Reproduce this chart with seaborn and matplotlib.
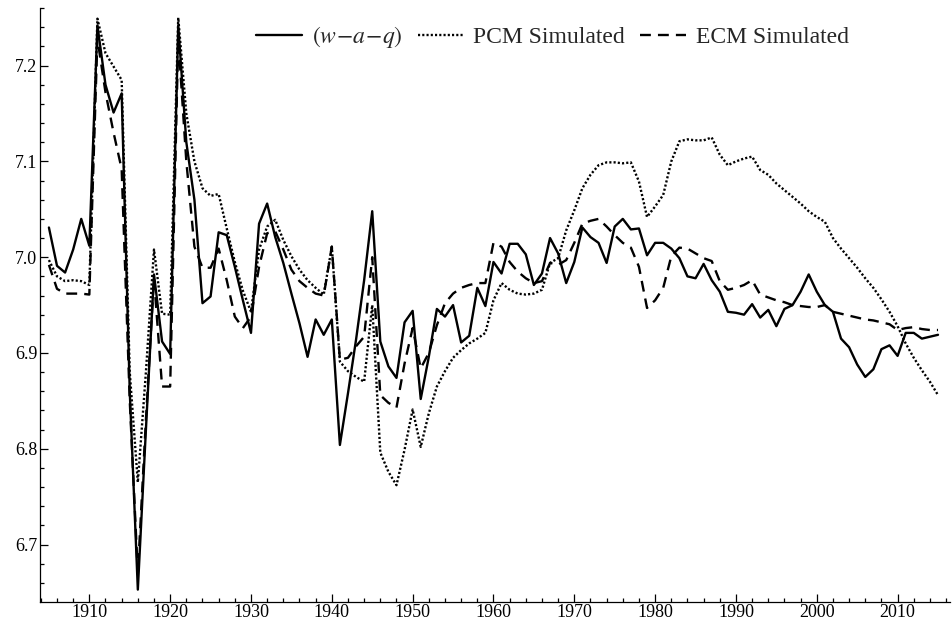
import numpy as np
import pandas as pd
import matplotlib
matplotlib.use("Agg")
import matplotlib.pyplot as plt
from matplotlib.ticker import MultipleLocator, FormatStrFormatter
import seaborn as sns

sns.set_theme(style="ticks")
plt.rcParams['font.family'] = ['Liberation Serif', 'DejaVu Serif']
plt.rcParams['mathtext.fontset'] = 'stix'

years = np.arange(1905, 2016)

# (w-a-q)
wq = [7.031, 6.991, 6.984, 7.008, 7.040, 7.012, 7.242, 7.180, 7.151, 7.171,
      6.860, 6.653, 6.820, 6.982, 6.912, 6.899, 7.242, 7.120, 7.060, 6.952,
      6.959, 7.026, 7.023, 6.990, 6.955, 6.921, 7.035, 7.056, 7.021, 6.994,
      6.962, 6.931, 6.896, 6.935, 6.919, 6.935, 6.804, 6.858, 6.914, 6.976,
      7.048, 6.912, 6.886, 6.874, 6.932, 6.944, 6.852, 6.896, 6.946, 6.938,
      6.950, 6.911, 6.918, 6.968, 6.949, 6.995, 6.983, 7.014, 7.014, 7.003,
      6.971, 6.983, 7.020, 7.004, 6.973, 6.995, 7.031, 7.021, 7.015, 6.994,
      7.032, 7.040, 7.029, 7.030, 7.002, 7.015, 7.015, 7.009, 6.999, 6.980,
      6.978, 6.993, 6.976, 6.964, 6.943, 6.942, 6.940, 6.951, 6.937, 6.945,
      6.928, 6.946, 6.950, 6.964, 6.982, 6.964, 6.950, 6.943, 6.915, 6.906,
      6.888, 6.875, 6.883, 6.904, 6.908, 6.897, 6.921, 6.921, 6.915, 6.917,
      6.919]

# PCM Simulated
pcm = [6.997, 6.980, 6.975, 6.976, 6.975, 6.971, 7.249, 7.213, 7.199, 7.185,
       6.880, 6.765, 6.880, 7.008, 6.941, 6.940, 7.250, 7.150, 7.100, 7.072,
       7.064, 7.066, 7.030, 6.995, 6.965, 6.943, 7.008, 7.032, 7.039, 7.018,
       7.001, 6.987, 6.976, 6.968, 6.961, 7.011, 6.891, 6.881, 6.875, 6.870,
       6.950, 6.796, 6.776, 6.762, 6.799, 6.841, 6.802, 6.837, 6.865, 6.881,
       6.895, 6.903, 6.910, 6.915, 6.921, 6.955, 6.973, 6.966, 6.962, 6.961,
       6.962, 6.966, 6.994, 6.999, 7.028, 7.049, 7.072, 7.086, 7.096, 7.099,
       7.099, 7.098, 7.099, 7.079, 7.042, 7.053, 7.065, 7.100, 7.121, 7.123,
       7.122, 7.122, 7.125, 7.107, 7.096, 7.100, 7.103, 7.105, 7.091, 7.086,
       7.077, 7.070, 7.063, 7.056, 7.048, 7.042, 7.037, 7.020, 7.009, 6.999,
       6.989, 6.978, 6.968, 6.956, 6.943, 6.928, 6.910, 6.895, 6.882, 6.870,
       6.856]

# ECM Simulated
ecm = [6.992, 6.967, 6.962, 6.962, 6.962, 6.961, 7.228, 7.172, 7.130, 7.092,
       6.850, 6.670, 6.830, 6.978, 6.865, 6.865, 7.228, 7.100, 7.011, 6.989,
       6.989, 7.009, 6.976, 6.938, 6.926, 6.938, 6.990, 7.025, 7.027, 7.008,
       6.987, 6.975, 6.968, 6.962, 6.960, 7.011, 6.893, 6.895, 6.907, 6.917,
       7.000, 6.856, 6.848, 6.843, 6.889, 6.926, 6.884, 6.900, 6.929, 6.952,
       6.962, 6.968, 6.971, 6.973, 6.973, 7.015, 7.011, 6.995, 6.985, 6.978,
       6.973, 6.975, 6.994, 6.992, 6.997, 7.015, 7.035, 7.038, 7.040, 7.032,
       7.023, 7.015, 7.010, 6.990, 6.947, 6.955, 6.968, 7.001, 7.010, 7.009,
       7.004, 6.999, 6.996, 6.975, 6.966, 6.968, 6.971, 6.976, 6.961, 6.958,
       6.955, 6.953, 6.950, 6.949, 6.948, 6.948, 6.950, 6.943, 6.941, 6.939,
       6.937, 6.935, 6.934, 6.932, 6.930, 6.924, 6.926, 6.927, 6.925, 6.924,
       6.924]

fig, ax = plt.subplots(figsize=(9.53, 6.26), dpi=100)
fig.subplots_adjust(left=0.042, right=0.997, bottom=0.039, top=0.987)

sns.lineplot(x=years, y=wq, ax=ax, color='black', lw=1.7,
             label=r'$(w\!-\!a\!-\!q)$')
sns.lineplot(x=years, y=pcm, ax=ax, color='black', lw=1.7,
             linestyle=(0, (0.9, 0.9)), label='PCM Simulated')
sns.lineplot(x=years, y=ecm, ax=ax, color='black', lw=1.7,
             linestyle=(0, (4.6, 3.0)), label='ECM Simulated')

ax.set_xlim(1903.9, 2016.5)
ax.set_ylim(6.6405, 7.26)

ax.xaxis.set_major_locator(MultipleLocator(10))
ax.xaxis.set_minor_locator(MultipleLocator(2))
ax.yaxis.set_major_locator(MultipleLocator(0.1))
ax.yaxis.set_minor_locator(MultipleLocator(0.02))
ax.yaxis.set_major_formatter(FormatStrFormatter('%.1f'))

ax.tick_params(which='both', direction='in', color='black', width=0.9,
               labelsize=13, labelcolor='black')
ax.tick_params(which='major', length=6, pad=2)
ax.tick_params(which='minor', length=3)

sns.despine(ax=ax)
for s in ['left', 'bottom']:
    ax.spines[s].set_color('black')
    ax.spines[s].set_linewidth(0.9)

ax.set_xlabel('')
ax.set_ylabel('')
ax.legend(loc='center', bbox_to_anchor=(0.563, 0.951), ncol=3, frameon=False,
          fontsize=17, handlelength=1.95, handletextpad=0.4, columnspacing=0.65)

plt.savefig('out.png', dpi=100)
